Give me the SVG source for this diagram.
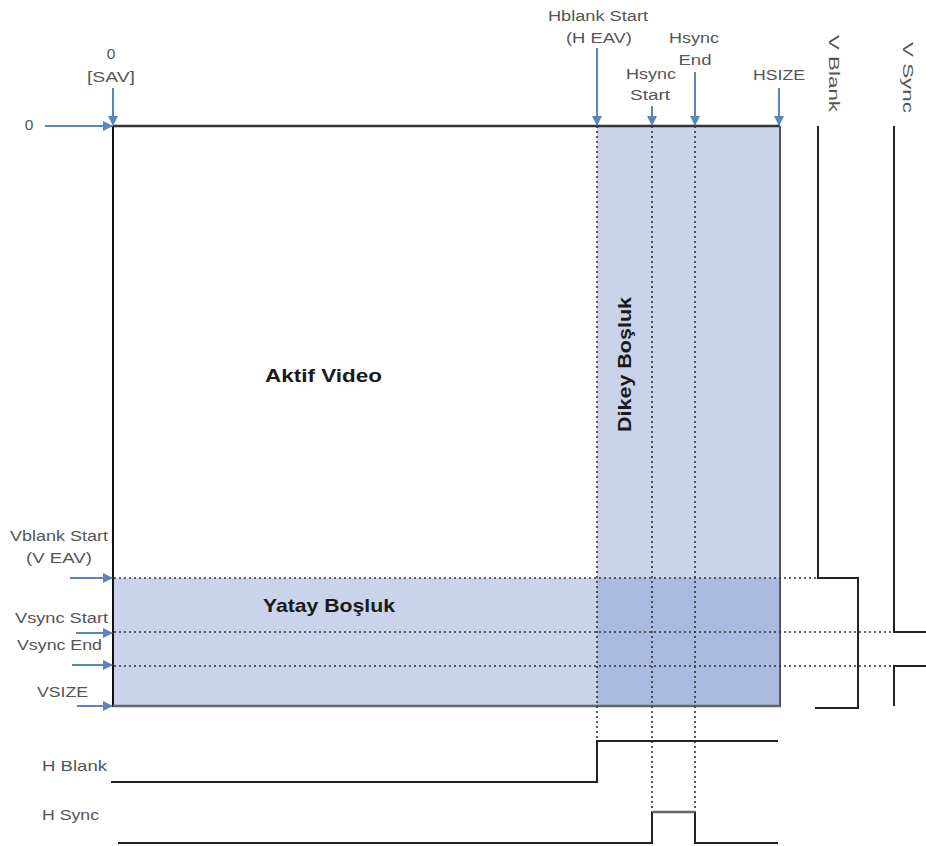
<svg xmlns="http://www.w3.org/2000/svg" width="926" height="846" viewBox="0 0 926 846">
<defs>
<style>
.lbl{font-family:"Liberation Sans",Arial,sans-serif;font-size:15.5px;fill:#555}
.big{font-family:"Liberation Sans",Arial,sans-serif;font-size:19px;font-weight:bold;fill:#1a1a1a}
.arr{stroke:#5a86c0;stroke-width:2;fill:none;marker-end:url(#ah)}
.dot{stroke:#333;stroke-width:1.6;stroke-dasharray:2 3;fill:none}
.sig{stroke:#222;stroke-width:2;fill:none}
.sig2{stroke:#666;stroke-width:2.5;fill:none}
</style>
<marker id="ah" viewBox="0 0 10 10" refX="9" refY="5" markerWidth="5" markerHeight="5" orient="auto" markerUnits="strokeWidth">
<path d="M0,0 L10,5 L0,10 z" fill="#5a86c0"/>
</marker>
</defs>
<rect width="926" height="846" fill="#fff"/>

<g id="regions">
<rect x="597" y="126" width="183" height="580" fill="#c9d4ea"/>
<rect x="113" y="578" width="667" height="128" fill="#c9d4ea"/>
<rect x="597" y="578" width="183" height="128" fill="#aabbdf"/>
</g>

<g id="frame">
<line x1="113" y1="126" x2="780" y2="126" stroke="#333" stroke-width="2.5"/>
<line x1="113" y1="126" x2="113" y2="707" stroke="#111" stroke-width="2"/>
<line x1="780" y1="126" x2="780" y2="707" stroke="#555" stroke-width="2"/>
<line x1="113" y1="706" x2="781" y2="706" stroke="#666" stroke-width="2.5"/>
</g>

<g id="connectors">
<path class="dot" d="M597,126 V741 M652,126 V812 M695,126 V812"/>
<path class="dot" d="M114,578 H818 M114,632 H926 M114,666 H926"/>
<path class="arr" d="M113,88 V125"/>
<path class="arr" d="M597,48 V125"/>
<path class="arr" d="M652,106 V125"/>
<path class="arr" d="M695,72 V125"/>
<path class="arr" d="M779,88 V125"/>
<path class="arr" d="M45,126 H112"/>
<path class="arr" d="M70,578 H112"/>
<path class="arr" d="M76,633 H112"/>
<path class="arr" d="M72,665 H112"/>
<path class="arr" d="M77,706 H112"/>
<path class="sig" d="M818,126 V578 H858 V708 H815"/>
<path class="sig" d="M894,126 V632 H926 M926,666 H894 V706"/>
<path class="sig" d="M111,782 H597 V741 H778"/>
<path class="sig" d="M118,843 H652 V812 M695,812 V843 H778"/>
<path class="sig2" d="M652,812 H695"/>
</g>

<g id="labels">
<text class="lbl" x="111" y="59" text-anchor="middle">0</text>
<text class="lbl" x="111" y="82" text-anchor="middle" textLength="48" lengthAdjust="spacingAndGlyphs">[SAV]</text>
<text class="lbl" x="29" y="130" text-anchor="middle">0</text>
<text class="lbl" x="598" y="21" text-anchor="middle" textLength="100" lengthAdjust="spacingAndGlyphs">Hblank Start</text>
<text class="lbl" x="599" y="43" text-anchor="middle" textLength="66" lengthAdjust="spacingAndGlyphs">(H EAV)</text>
<text class="lbl" x="651" y="79" text-anchor="middle" textLength="50" lengthAdjust="spacingAndGlyphs">Hsync</text>
<text class="lbl" x="650" y="100" text-anchor="middle" textLength="40" lengthAdjust="spacingAndGlyphs">Start</text>
<text class="lbl" x="694" y="43" text-anchor="middle" textLength="50" lengthAdjust="spacingAndGlyphs">Hsync</text>
<text class="lbl" x="695" y="65" text-anchor="middle" textLength="33" lengthAdjust="spacingAndGlyphs">End</text>
<text class="lbl" x="779" y="80" text-anchor="middle" textLength="52" lengthAdjust="spacingAndGlyphs">HSIZE</text>
<text class="lbl" transform="translate(829,35) rotate(90)" textLength="77" lengthAdjust="spacingAndGlyphs">V Blank</text>
<text class="lbl" transform="translate(903,42) rotate(90)" textLength="71" lengthAdjust="spacingAndGlyphs">V Sync</text>
<text class="lbl" x="10" y="541" textLength="98" lengthAdjust="spacingAndGlyphs">Vblank Start</text>
<text class="lbl" x="26" y="563" textLength="66" lengthAdjust="spacingAndGlyphs">(V EAV)</text>
<text class="lbl" x="15" y="623" textLength="93" lengthAdjust="spacingAndGlyphs">Vsync Start</text>
<text class="lbl" x="17" y="650" textLength="85" lengthAdjust="spacingAndGlyphs">Vsync End</text>
<text class="lbl" x="37" y="697" textLength="51" lengthAdjust="spacingAndGlyphs">VSIZE</text>
<text class="lbl" x="42" y="771" textLength="65" lengthAdjust="spacingAndGlyphs">H Blank</text>
<text class="lbl" x="42" y="820" textLength="57" lengthAdjust="spacingAndGlyphs">H Sync</text>
<text class="big" x="265" y="382" textLength="117" lengthAdjust="spacingAndGlyphs">Aktif Video</text>
<text class="big" x="263" y="612" textLength="132" lengthAdjust="spacingAndGlyphs">Yatay Boşluk</text>
<text class="big" transform="translate(631,432) rotate(-90)" textLength="135" lengthAdjust="spacingAndGlyphs">Dikey Boşluk</text>
</g>
</svg>
